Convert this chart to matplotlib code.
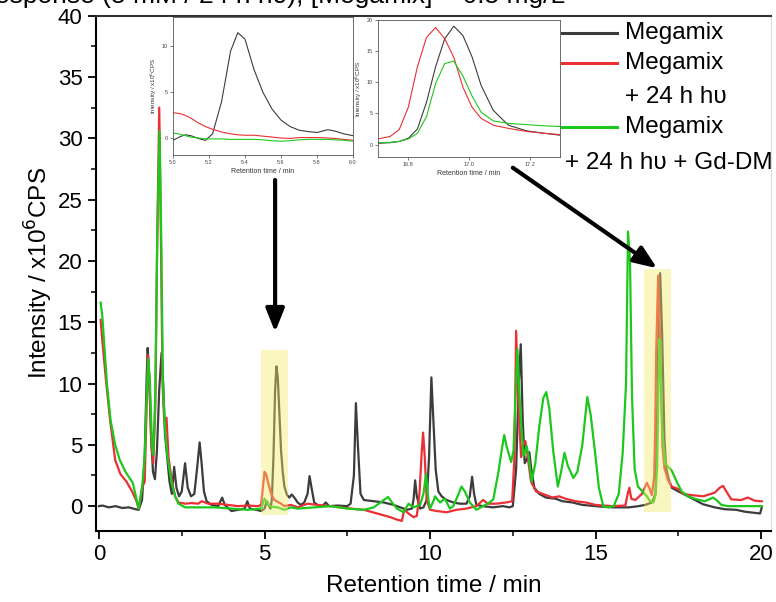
import numpy as np
import matplotlib
matplotlib.use('Agg')
import matplotlib.pyplot as plt
from matplotlib.lines import Line2D
from matplotlib.patches import Rectangle

plt.rcParams['font.family'] = ['Liberation Sans', 'DejaVu Sans']

# main chromatogram (time in min, intensity in 1e6 CPS)
t_mega = [0.0, 0.1, 0.3, 0.5, 0.7, 0.9, 1.1, 1.2, 1.3, 1.38, 1.44, 1.47, 1.51, 1.57, 1.63, 1.69,
          1.75, 1.82, 1.89, 1.94, 1.99, 2.06, 2.13, 2.2, 2.27, 2.34, 2.42, 2.5, 2.6, 2.68, 2.78,
          2.88, 2.96, 3.04, 3.1, 3.17, 3.25, 3.4, 3.6, 3.72, 3.8, 4.0, 4.2, 4.4, 4.48, 4.56, 4.75,
          4.9, 5.0, 5.07, 5.18, 5.22, 5.27, 5.32, 5.36, 5.4, 5.45, 5.5, 5.55, 5.6, 5.68, 5.75,
          5.82, 5.9, 6.0, 6.1, 6.2, 6.3, 6.36, 6.42, 6.5, 6.6, 6.75, 6.85, 6.95, 7.2, 7.5, 7.6,
          7.7, 7.76, 7.82, 7.9, 8.0, 8.3, 8.6, 8.9, 9.1, 9.3, 9.45, 9.5, 9.55, 9.6, 9.7, 9.8, 9.9,
          9.97, 10.04, 10.1, 10.17, 10.25, 10.35, 10.5, 10.7, 10.9, 11.1, 11.2, 11.27, 11.33,
          11.4, 11.6, 11.9, 12.2, 12.4, 12.5, 12.6, 12.68, 12.74, 12.8, 12.86, 12.92, 13.0,
          13.06, 13.15, 13.3, 13.5, 13.8, 14.0, 14.3, 14.6, 15.0, 15.5, 16.0, 16.3, 16.5, 16.7,
          16.81, 16.85, 16.89, 16.95, 17.01, 17.08, 17.13, 17.21, 17.3, 17.5, 17.65, 18.0, 18.25,
          18.6, 18.9, 19.25, 19.5, 19.8, 19.97, 20.02]
i_mega = [0.0, 0.05, -0.1, 0.0, -0.15, -0.1, -0.25, -0.3, 0.5, 4.0, 10.5, 12.9, 11.0, 6.0, 2.8,
          2.2, 4.5, 9.5, 12.5, 10.0, 6.0, 4.0, 2.0, 1.0, 3.2, 1.5, 0.8, 1.2, 3.5, 1.5, 0.8, 1.0,
          3.0, 5.2, 3.5, 1.2, 0.4, 0.1, 0.0, 0.7, 0.1, -0.4, -0.3, -0.2, 0.4, -0.2, -0.3, -0.4,
          -0.2, 0.4, -0.2, 0.5, 4.0, 9.5, 11.4, 10.5, 7.5, 4.5, 2.8, 1.6, 0.9, 0.7, 0.95, 0.7,
          0.3, 0.1, 0.3, 1.0, 2.45, 1.5, 0.3, 0.1, 0.0, 0.3, 0.0, 0.05, 0.0, 0.2, 2.5, 8.4, 5.0,
          1.0, 0.5, 0.4, 0.3, 0.1, -0.1, -0.3, -0.2, 0.5, 2.1, 0.8, -0.2, -0.1, 0.5, 4.0, 10.5,
          7.0, 3.0, 1.2, 0.8, 0.5, 0.3, 0.2, 0.2, 0.8, 2.4, 1.0, 0.1, 0.0, -0.1, 0.0, -0.1, 0.0,
          3.0, 10.0, 13.2, 7.0, 3.5, 3.8, 4.4, 3.0, 1.5, 1.0, 0.7, 0.6, 0.4, 0.3, 0.1, 0.0, -0.1,
          -0.1, 0.0, 0.1, 0.3, 1.0, 5.5, 12.5, 19.0, 14.1, 5.5, 3.1, 2.2, 1.5, 1.2, 1.0, 0.5,
          0.15, -0.1, -0.25, -0.3, -0.45, -0.55, -0.6, -0.1]

t_hv = [0.05, 0.1, 0.22, 0.34, 0.49, 0.65, 0.83, 1.0, 1.12, 1.2, 1.3, 1.38, 1.42, 1.48, 1.53,
        1.58, 1.64, 1.7, 1.76, 1.82, 1.87, 1.92, 1.97, 2.04, 2.1, 2.2, 2.3, 2.4, 2.6, 2.8, 3.0,
        3.1, 3.3, 3.6, 3.9, 4.2, 4.5, 4.8, 4.9, 4.95, 5.0, 5.05, 5.1, 5.2, 5.3, 5.4, 5.5, 5.6,
        5.8, 6.0, 6.3, 6.6, 7.0, 7.3, 7.6, 8.0, 8.4, 8.8, 9.0, 9.15, 9.22, 9.35, 9.5, 9.6, 9.68,
        9.75, 9.79, 9.84, 9.9, 10.0, 10.2, 10.5, 10.8, 11.1, 11.4, 11.6, 11.75, 12.0, 12.3,
        12.48, 12.55, 12.6, 12.66, 12.75, 12.82, 12.88, 12.95, 13.05, 13.2, 13.5, 13.7, 13.9,
        14.1, 14.4, 14.7, 15.0, 15.5, 15.9, 15.97, 16.02, 16.08, 16.2, 16.4, 16.55, 16.62, 16.7,
        16.77, 16.8, 16.83, 16.89, 16.94, 16.98, 17.02, 17.08, 17.19, 17.3, 17.5, 17.65, 17.9,
        18.25, 18.6, 18.75, 18.85, 18.95, 19.1, 19.4, 19.6, 19.8, 19.97, 20.02]
i_hv = [15.2, 13.5, 10.0, 6.9, 3.75, 2.6, 2.0, 1.2, 0.5, -0.2, 1.5, 2.0, 6.0, 12.3, 10.0, 5.0,
        3.5, 8.0, 22.0, 32.5, 22.0, 10.0, 7.0, 7.2, 4.0, 2.0, 0.8, 0.3, 0.2, 0.25, 0.2, 0.4, 0.2,
        0.2, 0.1, 0.0, 0.05, 0.0, 0.1, 1.5, 2.8, 2.6, 2.0, 1.0, 0.5, 0.35, 0.2, 0.0, 0.1, -0.1,
        0.2, 0.1, 0.0, -0.1, -0.2, -0.3, -0.6, -0.9, -1.1, -1.2, -0.3, -0.6, -0.9, -0.8, 1.0, 4.5,
        6.0, 4.0, 0.5, -0.3, -0.4, -0.5, -0.3, -0.2, 0.0, 0.5, 0.2, 0.2, 0.3, 0.4, 4.0, 14.3, 9.0,
        4.0, 5.2, 5.3, 4.0, 2.0, 1.2, 0.9, 0.7, 0.8, 0.6, 0.4, 0.3, 0.1, 0.0, 0.05, 1.0, 1.5, 0.6,
        0.5, 1.0, 1.9, 1.5, 0.9, 2.4, 6.0, 12.5, 18.8, 14.6, 9.2, 4.9, 3.1, 2.1, 1.6, 1.4, 1.0,
        0.9, 0.8, 1.1, 1.5, 1.65, 1.2, 0.55, 0.5, 0.7, 0.45, 0.4, 0.4]

t_gd = [0.05, 0.1, 0.24, 0.35, 0.49, 0.63, 0.8, 1.02, 1.2, 1.3, 1.38, 1.44, 1.49, 1.54, 1.6,
        1.64, 1.7, 1.76, 1.83, 1.88, 1.93, 2.0, 2.07, 2.2, 2.3, 2.4, 2.6, 3.0, 3.5, 4.0, 4.5,
        4.9, 5.0, 5.1, 5.2, 5.4, 5.6, 5.8, 6.0, 6.5, 7.0, 7.5, 8.0, 8.3, 8.6, 8.73, 8.85, 9.0,
        9.2, 9.35, 9.5, 9.7, 9.8, 9.88, 9.95, 10.0, 10.1, 10.15, 10.3, 10.45, 10.6, 10.7, 10.8,
        10.95, 11.05, 11.2, 11.4, 11.6, 11.8, 11.91, 12.06, 12.16, 12.24, 12.32, 12.45, 12.52,
        12.58, 12.64, 12.72, 12.82, 12.92, 12.98, 13.07, 13.18, 13.3, 13.42, 13.51, 13.6, 13.72,
        13.86, 13.96, 14.06, 14.16, 14.33, 14.45, 14.6, 14.75, 14.85, 15.0, 15.1, 15.23, 15.38,
        15.55, 15.7, 15.82, 15.92, 15.98, 16.04, 16.1, 16.18, 16.28, 16.45, 16.55, 16.65, 16.75,
        16.81, 16.86, 16.9, 16.93, 16.97, 17.02, 17.1, 17.19, 17.3, 17.45, 17.6, 17.8, 18.0,
        18.3, 18.55, 18.65, 18.8, 19.0, 19.5, 20.02]
i_gd = [16.6, 15.5, 10.0, 7.0, 5.0, 3.75, 2.8, 1.9, -0.2, 1.5, 4.0, 9.0, 12.0, 10.0, 5.0, 4.2,
        9.0, 22.0, 30.6, 22.0, 10.0, 6.0, 4.0, 1.8, 0.8, 0.2, -0.1, -0.1, -0.1, -0.2, -0.3, -0.2,
        0.6, 0.2, -0.05, -0.1, -0.3, -0.1, -0.2, -0.1, 0.0, -0.2, -0.3, -0.1, 0.5, 0.75, 0.3,
        -0.2, -0.5, 0.2, -0.1, 0.1, 1.0, 2.6, 0.5, -0.2, 0.4, 0.8, 0.3, 0.6, -0.2, 0.0, 0.6, 1.6,
        1.2, 0.3, -0.3, 0.0, 0.3, 0.55, 2.7, 4.5, 5.8, 4.8, 3.6, 4.5, 9.0, 12.8, 8.0, 4.1, 4.9,
        4.0, 2.0, 3.5, 6.5, 8.8, 9.3, 8.0, 4.5, 1.6, 2.8, 4.35, 3.3, 2.3, 2.8, 5.0, 8.9, 7.5,
        4.0, 1.5, 0.0, -0.1, 0.0, 1.0, 4.4, 10.0, 22.4, 20.0, 9.0, 3.0, 1.6, 1.1, 0.8, 0.4, 0.3,
        0.9, 3.3, 9.8, 13.6, 10.9, 6.0, 3.5, 3.2, 2.9, 2.0, 1.2, 0.8, 0.6, 0.4, 0.7, 0.5, 0.1,
        0.0, 0.0, 0.0]

# inset 1 (5.0 - 6.0 min)
t_in1 = [5.0, 5.04, 5.07, 5.1, 5.14, 5.18, 5.22, 5.27, 5.32, 5.36, 5.4, 5.45, 5.5, 5.55, 5.6,
         5.65, 5.7, 5.75, 5.8, 5.86, 5.9, 5.95, 6.0]
in1_mega = [-0.2, 0.2, 0.4, 0.3, 0.0, -0.2, 0.5, 4.0, 9.5, 11.5, 10.8, 7.5, 5.0, 3.2, 2.0, 1.3,
            0.9, 0.75, 0.65, 0.95, 0.8, 0.5, 0.3]
in1_hv = [2.8, 2.7, 2.5, 2.2, 1.7, 1.3, 1.0, 0.7, 0.5, 0.4, 0.35, 0.35, 0.25, 0.15, 0.05, 0.0,
          0.1, 0.1, 0.1, 0.05, 0.0, -0.1, -0.2]
in1_gd = [0.6, 0.45, 0.3, 0.15, 0.05, -0.05, -0.05, -0.05, -0.1, -0.1, -0.1, -0.1, -0.15,
          -0.25, -0.3, -0.25, -0.15, -0.1, -0.1, -0.1, -0.15, -0.2, -0.3]

# inset 2 (16.7 - 17.3 min)
t_in2 = [16.7, 16.74, 16.77, 16.8, 16.83, 16.86, 16.89, 16.92, 16.95, 16.98, 17.01, 17.04,
         17.08, 17.13, 17.19, 17.25, 17.3]
in2_mega = [0.2, 0.3, 0.5, 1.0, 2.5, 6.8, 12.5, 17.0, 19.0, 17.5, 14.1, 9.5, 5.5, 3.1, 2.2,
            1.8, 1.5]
in2_hv = [0.9, 1.3, 2.4, 6.0, 12.5, 17.2, 18.8, 17.0, 14.0, 9.2, 6.0, 4.2, 3.1, 2.6, 2.1, 1.8,
          1.6]
in2_gd = [0.3, 0.35, 0.5, 0.9, 1.8, 4.5, 9.8, 13.0, 13.4, 11.0, 7.8, 5.2, 3.8, 3.4, 3.2, 3.0,
          2.9]

colors = ['#3c3c3c', '#ea3035', '#1dc81d']

fig = plt.figure(figsize=(7.76, 6.02), dpi=100)
ax = fig.add_axes([0.1233, 0.1185, 0.8703, 0.8555])

for t, y, c in zip([t_mega, t_hv, t_gd], [i_mega, i_hv, i_gd], colors):
    ax.plot(t, y, color=c, lw=1.6, solid_joinstyle='round')

# highlighted peaks
ax.add_patch(Rectangle((4.9, -0.75), 0.82, 13.5, facecolor='#f2ea6a', alpha=0.42,
                       edgecolor='none', zorder=5))
ax.add_patch(Rectangle((16.45, -0.5), 0.83, 19.85, facecolor='#f2ea6a', alpha=0.42,
                       edgecolor='none', zorder=5))

ax.set_xlim(-0.1, 20.3)
ax.set_ylim(-2, 40)
ax.set_xticks([0, 5, 10, 15, 20])
ax.set_yticks([0, 5, 10, 15, 20, 25, 30, 35, 40])
ax.set_xticks(np.arange(2.5, 20, 5), minor=True)
ax.set_yticks(np.arange(2.5, 40, 5), minor=True)
ax.tick_params(which='major', direction='out', length=6, width=1.3, labelsize=16)
ax.tick_params(which='minor', direction='out', length=3.5, width=1.1)
for s in ['left', 'bottom', 'top']:
    ax.spines[s].set_linewidth(1.5)
ax.spines['top'].set_color('#333333')
ax.spines['right'].set_color('#dddddd')
ax.spines['right'].set_linewidth(0.8)
ax.set_xlabel('Retention time / min', fontsize=17.5, labelpad=7)
ax.set_ylabel('Intensity / x10$^6$CPS', fontsize=17.5, labelpad=2)

arrow = dict(arrowstyle='-|>,head_length=0.7,head_width=0.28', lw=3, color='black',
             mutation_scale=20, shrinkA=0, shrinkB=0)
ax.annotate('', xy=(5.32, 14.2), xytext=(5.32, 26.6), arrowprops=arrow, zorder=6)
ax.annotate('', xy=(16.86, 19.4), xytext=(12.5, 27.6), arrowprops=arrow, zorder=6)


def inset(rect, t, ys, xlim, ylim, xt, yt):
    a = fig.add_axes(rect)
    for y, c in zip(ys, colors):
        a.plot(t, y, color=c, lw=0.8)
    a.set_xlim(*xlim)
    a.set_ylim(*ylim)
    a.set_xticks(xt)
    a.set_yticks(yt)
    a.set_xticklabels(['{:.1f}'.format(v) for v in xt])
    a.tick_params(labelsize=4, length=2, width=0.5, pad=1.5, colors='#444444')
    for s in a.spines.values():
        s.set_linewidth(0.6)
        s.set_color('#555555')
    a.set_xlabel('Retention time / min', fontsize=5, labelpad=2, color='#333333')
    a.set_ylabel('Intensity / x10$^6$CPS', fontsize=4.5, labelpad=2, color='#333333')
    return a


inset([0.2229, 0.7425, 0.232, 0.2292], t_in1, [in1_mega, in1_hv, in1_gd], (5.0, 6.0),
      (-1.8, 13.2), [5.0, 5.2, 5.4, 5.6, 5.8, 6.0], [0, 5, 10])
inset([0.4871, 0.7392, 0.2345, 0.2276], t_in2, [in2_mega, in2_hv, in2_gd], (16.7, 17.3),
      (-2, 20), [16.8, 17.0, 17.2], [0, 5, 10, 15, 20])

# legend drawn by hand, as in the original
leg_y = [33, 63, 127]
for yy, c in zip(leg_y, colors):
    fig.add_artist(Line2D([562 / 776, 617 / 776], [1 - yy / 602] * 2, color=c, lw=2.2))
fig.text(625 / 776, 1 - 33 / 602, 'Megamix', fontsize=17.5, va='center')
fig.text(625 / 776, 1 - 63 / 602, 'Megamix', fontsize=17.5, va='center')
fig.text(625 / 776, 1 - 97 / 602, '+ 24 h h\u03c5', fontsize=17.5, va='center')
fig.text(625 / 776, 1 - 127 / 602, 'Megamix', fontsize=17.5, va='center')
fig.text(565 / 776, 1 - 163 / 602, '+ 24 h h\u03c5 + Gd-DM', fontsize=17.5, va='center')

# cropped title line of the source figure (only its lower edge is in the picture)
fig.text(-24 / 776, 1 - 3 / 602, 'Response (5 mM / 24 h h\u03c5), [Megamix] = 0.5 mg/L',
         fontsize=19, va='baseline', ha='left')

fig.savefig('out.png', dpi=100)
